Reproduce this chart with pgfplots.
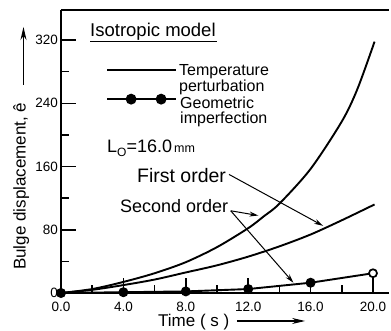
\documentclass[border=0pt]{standalone}
\usepackage{fontspec}
\setmainfont{Liberation Sans}
\usepackage{pgfplots}
\pgfplotsset{compat=1.18}
\usetikzlibrary{arrows.meta}
\begin{document}
\begin{tikzpicture}
\begin{axis}[
  at={(0,0)}, anchor=south west,
  scale only axis, width=327.6pt, height=283pt,
  xmin=0, xmax=21, ymin=0, ymax=358,
  axis x line*=box, axis y line*=left,
  axis line style={line width=2pt},
  xtick={0,4,8,12,16,20}, xticklabels={0.0,4.0,8.0,12.0,16.0,20.0},
  ytick={0,80,160,240,320}, yticklabels={0,80,160,240,320},
  minor x tick num=1, minor y tick num=1,
  tick align=inside, xtick pos=lower, ytick pos=left,
  major tick length=15pt, minor tick length=8pt,
  tick style={black, line width=1.5pt},
  xticklabel style={font=\fontsize{13.5}{14}\selectfont, inner sep=0pt, yshift=-9pt},
  yticklabel style={font=\fontsize{13.5}{14}\selectfont, inner sep=0pt, xshift=-3pt},
  clip=false,
  legend style={draw=none, fill=none, at={(0.1374,0.791)}, anchor=north west,
    inner sep=0pt, row sep=23.5pt, column sep=0pt,
    nodes={inner sep=0pt}},
  legend cell align=left,
]
% Temperature perturbation (second order)
\addplot[forget plot, black, line width=1.9pt, smooth, tension=0.5] coordinates
 {(0,0)(2,5)(4,14)(6,25)(8,39)(10,58)(12,82)(13,97)(14,113)(16,157)(18,217)(19,258)(20.1,318)};
% Temperature perturbation (first order)
\addplot[forget plot, black, line width=1.9pt, smooth, tension=0.5] coordinates
 {(0,0)(2,4)(4,10)(6,17)(8,26)(10,35)(12,46)(14,59)(16,74)(18,92)(20.1,112)};
% Geometric imperfection
\addplot[forget plot, black, line width=1.9pt, mark=*, mark size=4pt, mark indices={1,2,3,4,5}, mark options={solid, fill=black}] coordinates
 {(0,0)(4,1)(8,2)(12,5)(16,13)(20,25)};
\addplot[forget plot, only marks, mark=*, mark size=4pt, line width=1.7pt, mark options={draw=black, fill=white}] coordinates {(20,25)};

\addlegendimage{legend image code/.code={\draw[black, line width=1.8pt] (0pt,0pt) -- (69pt,0pt);}}
\addlegendentry{}
\addlegendimage{legend image code/.code={\draw[black, line width=1.8pt, mark=*, mark size=4.5pt, mark indices={2,3}] plot coordinates {(0pt,0pt)(24pt,0pt)(54pt,0pt)(69pt,0pt)};}}
\addlegendentry{}

\node[anchor=base west, inner sep=0pt, font=\fontsize{16}{16}\selectfont] at (axis cs:7.56,275.1) {Temperature};
\node[anchor=base west, inner sep=0pt, font=\fontsize{16}{16}\selectfont] at (axis cs:7.56,255.5) {perturbation};
\node[anchor=base west, inner sep=0pt, font=\fontsize{16}{16}\selectfont] at (axis cs:7.63,233.4) {Geometric};
\node[anchor=base west, inner sep=0pt, font=\fontsize{16}{16}\selectfont] at (axis cs:7.63,213.8) {imperfection};

\node[anchor=base west, inner sep=0pt, font=\fontsize{18.5}{18.5}\selectfont] (iso) at (axis cs:1.86,325) {Isotropic model};
\draw[line width=1.5pt] ([yshift=-5.5pt]iso.base west) -- ([yshift=-5.5pt,xshift=1pt]iso.base east);

\node[anchor=base west, inner sep=0pt, font=\fontsize{18}{18}\selectfont] at (axis cs:2.95,178)
 {L\raisebox{-4pt}{\fontsize{12}{12}\selectfont O}=16.0{\fontsize{12.5}{12.5}\selectfont\,mm}};

\node[anchor=base west, inner sep=0pt, font=\fontsize{19.5}{19.5}\selectfont] at (axis cs:4.87,140.4) {First order};
\node[anchor=base west, inner sep=0pt, font=\fontsize{18}{18}\selectfont] at (axis cs:3.78,101.2) {Second order};

\draw[line width=1pt, -{Stealth[length=9pt,width=5pt]}] (axis cs:10.77,150) -- (axis cs:16.8,85);
\draw[line width=1pt, -{Stealth[length=9pt,width=5pt]}] (axis cs:10.88,104) -- (axis cs:12.65,98);
\draw[line width=1pt, -{Stealth[length=9pt,width=5pt]}] (axis cs:10.88,104) -- (axis cs:14.9,13);

\node[anchor=base west, inner sep=0pt, font=\fontsize{17}{17}\selectfont] at (rel axis cs:0.296,-0.120) {Time ( s )};
\draw[line width=1.1pt, -{Stealth[length=13pt,width=6pt]}] (rel axis cs:0.537,-0.0989) -- (rel axis cs:0.745,-0.0989);

\node[rotate=90, anchor=base west, inner sep=0pt, font=\fontsize{17}{17}\selectfont] at (rel axis cs:-0.108,0.081) {Bulge displacement, ê};
\draw[line width=1.3pt, -{Stealth[length=13pt,width=6pt]}] (rel axis cs:-0.1145,0.735) -- (rel axis cs:-0.1145,0.94);
\end{axis}
\pgfresetboundingbox
\path[use as bounding box] (-61pt,-38pt) rectangle (330pt,293pt);
\end{tikzpicture}
\end{document}
